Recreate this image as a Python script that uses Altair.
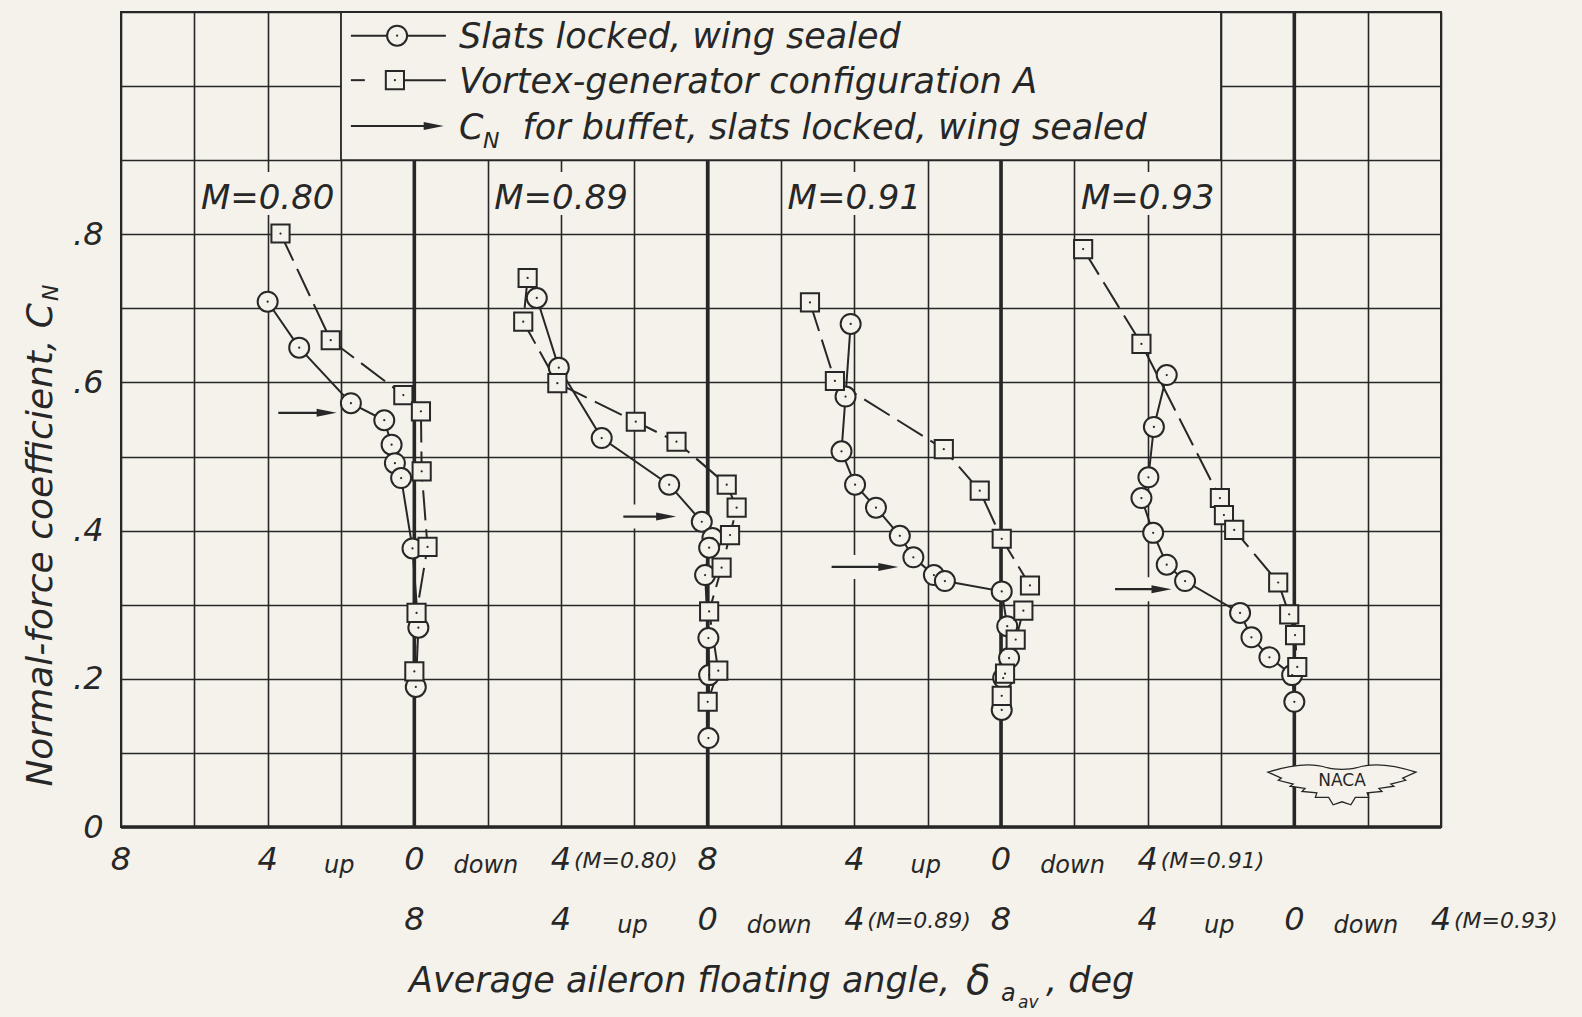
import altair as alt
import pandas as pd

# ---- colours, fonts, geometry -------------------------------------------
PAPER = "#f4f2ea"
INK = "#272727"
FONT = "DejaVu Sans"

W, H = 1320, 815
PAD = {"left": 121, "top": 12, "right": 141, "bottom": 190}

# ---- data ---------------------------------------------------------------
MACH = ["0.80", "0.89", "0.91", "0.93"]
ZERO = [8, 16, 24, 32]          # abscissa position of zero deflection for each Mach number
TICK_ROW = [0, 1, 0, 1]         # which label row under the axis belongs to each Mach number

# aileron floating angle (deg, up positive) and normal-force coefficient
SLATS_080_DELTA = [4.00, 3.14, 1.73, 0.82, 0.62, 0.53, 0.36, 0.05, -0.11, -0.04]
SLATS_080_CN = [0.709, 0.647, 0.572, 0.549, 0.516, 0.491, 0.471, 0.376, 0.269, 0.189]
SLATS_089_DELTA = [4.66, 4.06, 2.89, 1.05, 0.16, -0.13, -0.04, 0.07, -0.02, -0.04, -0.02]
SLATS_089_CN = [0.714, 0.620, 0.525, 0.462, 0.412, 0.390, 0.377, 0.340, 0.255, 0.205, 0.120]
SLATS_091_DELTA = [4.10, 4.24, 4.35, 3.98, 3.41, 2.76, 2.39, 1.83, 1.53, -0.02, -0.17, -0.22, -0.06, -0.02]
SLATS_091_CN = [0.679, 0.581, 0.507, 0.462, 0.431, 0.393, 0.364, 0.340, 0.332, 0.318, 0.271, 0.228, 0.201, 0.158]
SLATS_093_DELTA = [3.48, 3.83, 3.98, 4.17, 3.85, 3.48, 2.98, 1.48, 1.17, 0.68, 0.06, 0.00]
SLATS_093_CN = [0.610, 0.540, 0.472, 0.444, 0.397, 0.354, 0.332, 0.289, 0.256, 0.229, 0.205, 0.169]

VG_080_DELTA = [3.65, 2.28, 0.30, -0.18, -0.20, -0.36, -0.06, 0.00]
VG_080_CN = [0.801, 0.657, 0.583, 0.561, 0.480, 0.378, 0.289, 0.210]
VG_089_DELTA = [4.91, 5.03, 4.10, 1.96, 0.85, -0.52, -0.79, -0.61, -0.38, -0.04, -0.29, 0.00]
VG_089_CN = [0.741, 0.682, 0.599, 0.547, 0.520, 0.462, 0.431, 0.394, 0.350, 0.291, 0.211, 0.169]
VG_091_DELTA = [5.21, 4.53, 1.56, 0.58, -0.02, -0.79, -0.61, -0.40, -0.11, -0.02]
VG_091_CN = [0.708, 0.602, 0.510, 0.454, 0.389, 0.326, 0.292, 0.253, 0.207, 0.177]
VG_093_DELTA = [5.76, 4.17, 2.03, 1.92, 1.64, 0.44, 0.14, -0.02, -0.08]
VG_093_CN = [0.780, 0.652, 0.444, 0.421, 0.401, 0.330, 0.287, 0.259, 0.216]

# C_N for buffet (slats locked, wing sealed) and the arrow span in deflection
BUFFET_CN = [0.559, 0.419, 0.351, 0.321]
BUFFET_TIP = [2.12, 0.86, 2.80, 3.35]
BUFFET_TAIL = [3.71, 2.30, 4.62, 4.89]

TICK_DEFLECTION = [8, 4, 0, -4]
TICK_TEXT = ["8", "4", "0", "4"]
GRID_U = list(range(0, 37, 2))
GRID_CN = [round(0.1 * i, 1) for i in range(12)]

LEGEND_TEXT = ["Slats locked, wing sealed",
               "Vortex-generator configuration A",
               "for buffet, slats locked, wing sealed"]

# ---- scales and axes ------------------------------------------------------
XS = alt.Scale(domain=[0, 36], nice=False, zero=False)
YS = alt.Scale(domain=[0, 1.1], nice=False, zero=False)
X_AXIS = alt.Axis(values=GRID_U, grid=True, gridColor=INK, gridWidth=1.6, gridOpacity=1,
                  labels=False, ticks=False, domain=False, title="")
Y_AXIS = alt.Axis(values=GRID_CN, grid=True, gridColor=INK, gridWidth=1.6, gridOpacity=1,
                  ticks=False, domain=False, title="",
                  labelExpr="datum.value == 0 ? '0' : (datum.value < 0.85 && round(datum.value * 10) % 2 == 0"
                            " ? replace(format(datum.value, '.1f'), '0.', '.') : '')",
                  labelFont=FONT, labelFontSize=32, labelFontStyle="italic", labelColor=INK,
                  labelPadding=18)


def X(f):
    return alt.X(f, type="quantitative", scale=XS, axis=X_AXIS)


def Y(f):
    return alt.Y(f, type="quantitative", scale=YS, axis=Y_AXIS)


def series_frame(deltas, cns):
    rows = []
    for m, z, dl, cl in zip(MACH, ZERO, deltas, cns):
        for i, (d, c) in enumerate(zip(dl, cl)):
            rows.append({"mach": m, "zero": z, "delta": d, "cn": c, "order": i})
    return pd.DataFrame(rows)


slats = series_frame([SLATS_080_DELTA, SLATS_089_DELTA, SLATS_091_DELTA, SLATS_093_DELTA],
                     [SLATS_080_CN, SLATS_089_CN, SLATS_091_CN, SLATS_093_CN])
vg = series_frame([VG_080_DELTA, VG_089_DELTA, VG_091_DELTA, VG_093_DELTA],
                  [VG_080_CN, VG_089_CN, VG_091_CN, VG_093_CN])
buffet = pd.DataFrame({"mach": MACH, "zero": ZERO, "cn": BUFFET_CN,
                       "tip": BUFFET_TIP, "tail": BUFFET_TAIL})
panels = pd.DataFrame({"mach": MACH, "zero": ZERO, "row": TICK_ROW})

U = "datum.zero - datum.delta"
TXT = dict(font=FONT, fontStyle="italic", color=INK)

layers = []

# heavy zero-deflection lines and the heavy base line
heavy = pd.DataFrame({"u": ZERO, "y0": [0] * 4, "y1": [0.9, 0.9, 0.9, 1.1]})
layers.append(alt.Chart(heavy).mark_rule(color=INK, strokeWidth=3.6)
              .encode(x=X("u"), y=Y("y0"), y2="y1"))
base = pd.DataFrame({"a": [0], "b": [36], "c": [0]})
layers.append(alt.Chart(base).mark_rule(color=INK, strokeWidth=3.6)
              .encode(x=X("a"), x2="b", y=Y("c")))

# legend box
box = pd.DataFrame({"a": [6], "b": [30], "c": [0.9], "d": [1.1]})
layers.append(alt.Chart(box).mark_rect(fill=PAPER, stroke=INK, strokeWidth=1.8)
              .encode(x=X("a"), x2="b", y=Y("c"), y2="d"))

# cleared patches behind the Mach-number labels
layers.append(alt.Chart(panels).transform_calculate(a="datum.zero - 5.9", b="datum.zero - 2.1")
              .transform_calculate(c="0.826", d="0.884")
              .mark_rect(fill=PAPER).encode(x=X("a:Q"), x2="b:Q", y=Y("c:Q"), y2="d:Q"))

# cleared band behind the buffet arrows
arrows = alt.Chart(buffet).transform_calculate(
    ut="datum.zero - datum.tip", ul="datum.zero - datum.tail",
    uh="datum.zero - datum.tip - 0.3", ub="datum.zero - datum.tail - 0.12",
    ue="datum.zero - datum.tip + 0.05")
layers.append(arrows.mark_rule(color=PAPER, strokeWidth=24)
              .encode(x=X("ub:Q"), x2="ue:Q", y=Y("cn")))

# data curves
layers.append(alt.Chart(slats).transform_calculate(u=U)
              .mark_line(color=INK, strokeWidth=2)
              .encode(x=X("u:Q"), y=Y("cn"), detail="mach:N", order="order:Q"))
layers.append(alt.Chart(vg).transform_calculate(u=U)
              .mark_line(color=INK, strokeWidth=2, strokeDash=[30, 9])
              .encode(x=X("u:Q"), y=Y("cn"), detail="mach:N", order="order:Q"))

# buffet arrows
HEAD = "M0,0L-1,-0.2L-1,0.2Z"
layers.append(arrows.mark_rule(color=INK, strokeWidth=2.2)
              .encode(x=X("ul:Q"), x2="uh:Q", y=Y("cn")))
layers.append(arrows.mark_point(shape=HEAD, filled=True, color=INK, size=1600, opacity=1)
              .encode(x=X("ut:Q"), y=Y("cn")))

# markers
layers.append(alt.Chart(slats).transform_calculate(u=U)
              .mark_point(shape="circle", filled=True, fill=PAPER, stroke=INK, strokeWidth=2,
                          size=400, opacity=1)
              .encode(x=X("u:Q"), y=Y("cn")))
layers.append(alt.Chart(vg).transform_calculate(u=U)
              .mark_point(shape="square", filled=True, fill=PAPER, stroke=INK, strokeWidth=2,
                          size=330, opacity=1)
              .encode(x=X("u:Q"), y=Y("cn")))
for df in (slats, vg):
    layers.append(alt.Chart(df).transform_calculate(u=U)
                  .mark_point(shape="circle", filled=True, color=INK, size=5, opacity=1)
                  .encode(x=X("u:Q"), y=Y("cn")))

# Mach-number labels
layers.append(alt.Chart(panels).transform_calculate(u="datum.zero - 4", y="0.834",
                                                   t="'M=' + datum.mach")
              .mark_text(fontSize=34, align="center", baseline="alphabetic", **TXT)
              .encode(x=X("u:Q"), y=Y("y:Q"), text="t:N"))

# legend entries
LEG_Y = [1.068, 1.008, 0.946]
LEG_BASE = [1.052, 0.991, 0.9285]
leg_lines = pd.DataFrame({"a": [6.27, 6.27, 7.47, 6.27], "b": [8.86, 6.65, 8.86, 8.4],
                          "y": [LEG_Y[0], LEG_Y[1], LEG_Y[1], LEG_Y[2]]})
layers.append(alt.Chart(leg_lines).mark_rule(color=INK, strokeWidth=2)
              .encode(x=X("a"), x2="b", y=Y("y")))
layers.append(alt.Chart(pd.DataFrame({"u": [7.53], "y": [LEG_Y[0]]}))
              .mark_point(shape="circle", filled=True, fill=PAPER, stroke=INK, strokeWidth=2,
                          size=400, opacity=1).encode(x=X("u"), y=Y("y")))
layers.append(alt.Chart(pd.DataFrame({"u": [7.47], "y": [LEG_Y[1]]}))
              .mark_point(shape="square", filled=True, fill=PAPER, stroke=INK, strokeWidth=2,
                          size=330, opacity=1).encode(x=X("u"), y=Y("y")))
layers.append(alt.Chart(pd.DataFrame({"u": [7.53, 7.47], "y": LEG_Y[:2]}))
              .mark_point(shape="circle", filled=True, color=INK, size=5, opacity=1)
              .encode(x=X("u"), y=Y("y")))
layers.append(alt.Chart(pd.DataFrame({"u": [8.80], "y": [LEG_Y[2]]}))
              .mark_point(shape=HEAD, filled=True, color=INK, size=1600, opacity=1)
              .encode(x=X("u"), y=Y("y")))
leg_text = pd.DataFrame({"t": [LEGEND_TEXT[0], LEGEND_TEXT[1], "C", LEGEND_TEXT[2]],
                         "u": [9.22, 9.22, 9.22, 10.95],
                         "y": [LEG_BASE[0], LEG_BASE[1], LEG_BASE[2], LEG_BASE[2]]})
layers.append(alt.Chart(leg_text).mark_text(fontSize=35, align="left", baseline="alphabetic", **TXT)
              .encode(x=X("u"), y=Y("y"), text="t:N"))
layers.append(alt.Chart(pd.DataFrame({"t": ["N"], "u": [9.22], "y": [LEG_BASE[2]]}))
              .mark_text(fontSize=22, align="left", baseline="alphabetic", dx=24, dy=9, **TXT)
              .encode(x=X("u"), y=Y("y"), text="t:N"))

# deflection labels under the axis, two staggered rows
ROW_BASE = [858, 918]
nums, words, notes = [], [], []
for m, z, r in zip(MACH, ZERO, TICK_ROW):
    for d, t in zip(TICK_DEFLECTION, TICK_TEXT):
        nums.append({"u": z - d, "t": t, "row": r})
    words.append({"u": z - 2.05, "t": "up", "row": r})
    words.append({"u": z + 1.95, "t": "down", "row": r})
    notes.append({"u": z + 4, "t": "(M=" + m + ")", "row": r})
for r in (0, 1):
    n = pd.DataFrame([v for v in nums if v["row"] == r])
    w = pd.DataFrame([v for v in words if v["row"] == r])
    k = pd.DataFrame([v for v in notes if v["row"] == r])
    layers.append(alt.Chart(n).mark_text(fontSize=32, align="center", baseline="alphabetic", **TXT)
                  .encode(x=X("u"), y=alt.value(ROW_BASE[r]), text="t:N"))
    layers.append(alt.Chart(w).mark_text(fontSize=24, align="center", baseline="alphabetic", **TXT)
                  .encode(x=X("u"), y=alt.value(ROW_BASE[r] + 3), text="t:N"))
    layers.append(alt.Chart(k).mark_text(fontSize=22, align="left", baseline="alphabetic", dx=13, **TXT)
                  .encode(x=X("u"), y=alt.value(ROW_BASE[r] - 2), text="t:N"))


def pixel_text(text, x, y, size, align="left", angle=None):
    mk = dict(fontSize=size, align=align, baseline="alphabetic", **TXT)
    if angle is not None:
        mk["angle"] = angle
    return (alt.Chart(pd.DataFrame({"t": [text]})).mark_text(**mk)
            .encode(x=alt.value(x), y=alt.value(y), text="t:N"))


# axis titles
layers.append(pixel_text("Average aileron floating angle,", 288, 980, 35))
layers.append(pixel_text("δ", 845, 982, 40))
layers.append(pixel_text("a", 880, 989, 24))
layers.append(pixel_text("av", 897, 996, 17))
layers.append(pixel_text(", deg", 925, 980, 35))
layers.append(pixel_text("Normal-force coefficient, C", -69, 291, 36, align="right", angle=270))
layers.append(pixel_text("N", -63, 289, 22, align="left", angle=270))

# NACA wings emblem
WINGS = ("M-1,-0.14 C-0.6,-0.27 -0.35,-0.25 -0.2,-0.2 C-0.1,-0.17 0.1,-0.17 0.2,-0.2 "
         "C0.35,-0.25 0.6,-0.27 1,-0.14 L0.82,-0.06 L0.86,-0.03 L0.66,0.02 L0.7,0.05 "
         "L0.5,0.08 L0.54,0.12 L0.34,0.14 L0.36,0.2 L0.18,0.2 L0.12,0.3 L0,0.26 L-0.12,0.3 "
         "L-0.18,0.2 L-0.36,0.2 L-0.34,0.14 L-0.54,0.12 L-0.5,0.08 L-0.7,0.05 L-0.66,0.02 "
         "L-0.86,-0.03 L-0.82,-0.06 Z")
emblem = pd.DataFrame({"u": [33.3], "y": [0.06], "t": ["NACA"]})
layers.append(alt.Chart(emblem).mark_point(shape=WINGS, filled=True, fill=PAPER, stroke=INK,
                                           strokeWidth=1.3, size=21904, opacity=1)
              .encode(x=X("u"), y=Y("y")))
layers.append(alt.Chart(emblem).mark_text(font=FONT, fontSize=17, color=INK, align="center",
                                          baseline="middle", dy=-2)
              .encode(x=X("u"), y=Y("y"), text="t:N"))

chart = (alt.layer(*layers)
         .properties(width=W, height=H, padding=PAD, background=PAPER,
                     autosize=alt.AutoSizeParams(type="none"))
         .configure_view(stroke=INK, strokeWidth=2))

chart.save("out.html", embed_options={"renderer": "svg", "actions": False})
